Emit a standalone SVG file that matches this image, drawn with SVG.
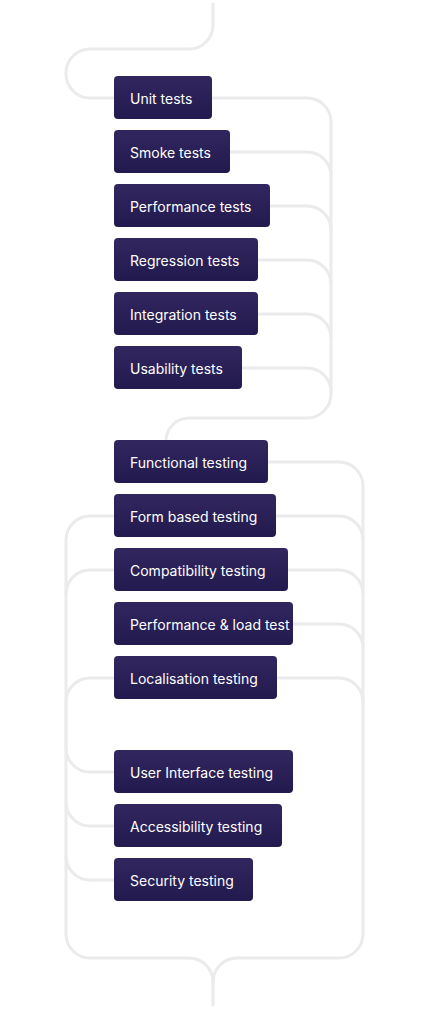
<svg xmlns="http://www.w3.org/2000/svg" width="430" height="1009" viewBox="0 0 430 1009">
<defs>
<linearGradient id="bg" x1="0" y1="0" x2="0" y2="1">
<stop offset="0" stop-color="#32265f"/>
<stop offset="1" stop-color="#221a4e"/>
</linearGradient>
<style>
.c{fill:none;stroke:#ebebeb;stroke-width:3;stroke-linecap:round;stroke-linejoin:round}
.b{fill:url(#bg)}
.t{fill:#ffffff;font-family:Inter,"Noto Sans",sans-serif;font-size:14px}
</style>
</defs>
<rect width="430" height="1009" fill="#ffffff"/>
<g id="connectors">
<path class="c" d="M213,4 V25 A24,24 0 0 1 189,49 H90 A24,24 0 0 0 66,73 V74 A24,24 0 0 0 90,98 H114"/>
<path class="c" d="M211,98 H307 A24,24 0 0 1 331,122 V394 A24,24 0 0 1 307,418 H189 A23,23 0 0 0 166,441"/>
<path class="c" d="M229,152 H307 A24,24 0 0 1 331,176"/>
<path class="c" d="M269,206 H307 A24,24 0 0 1 331,230"/>
<path class="c" d="M257,260 H307 A24,24 0 0 1 331,284"/>
<path class="c" d="M257,314 H307 A24,24 0 0 1 331,338"/>
<path class="c" d="M241,368 H307 A24,24 0 0 1 331,392"/>
<path class="c" d="M267,462 H339 A24,24 0 0 1 363,486 V934 A24,24 0 0 1 339,958 H237 A24,24 0 0 0 213,982 V1005"/>
<path class="c" d="M275,516 H339 A24,24 0 0 1 363,540"/>
<path class="c" d="M287,570 H339 A24,24 0 0 1 363,594"/>
<path class="c" d="M292,624 H339 A24,24 0 0 1 363,648"/>
<path class="c" d="M276,678 H339 A24,24 0 0 1 363,702"/>
<path class="c" d="M114,516 H90 A24,24 0 0 0 66,540 V934 A24,24 0 0 0 90,958 H189 A24,24 0 0 1 213,982"/>
<path class="c" d="M114,570 H90 A24,24 0 0 0 66,594"/>
<path class="c" d="M114,678 H90 A24,24 0 0 0 66,702 V748 A24,24 0 0 0 90,772 H114"/>
<path class="c" d="M114,826 H90 A24,24 0 0 1 66,802"/>
<path class="c" d="M114,880 H90 A24,24 0 0 1 66,856"/>
</g>
<g id="n1"><rect class="b" x="114" y="76" width="98" height="43" rx="4"/><text class="t" x="130" y="104">Unit tests</text></g>
<g id="n2"><rect class="b" x="114" y="130" width="116" height="43" rx="4"/><text class="t" x="130" y="158">Smoke tests</text></g>
<g id="n3"><rect class="b" x="114" y="184" width="156" height="43" rx="4"/><text class="t" x="130" y="212">Performance tests</text></g>
<g id="n4"><rect class="b" x="114" y="238" width="144" height="43" rx="4"/><text class="t" x="130" y="266">Regression tests</text></g>
<g id="n5"><rect class="b" x="114" y="292" width="144" height="43" rx="4"/><text class="t" x="130" y="320">Integration tests</text></g>
<g id="n6"><rect class="b" x="114" y="346" width="128" height="43" rx="4"/><text class="t" x="130" y="374">Usability tests</text></g>
<g id="n7"><rect class="b" x="114" y="440" width="154" height="43" rx="4"/><text class="t" x="130" y="468">Functional testing</text></g>
<g id="n8"><rect class="b" x="114" y="494" width="162" height="43" rx="4"/><text class="t" x="130" y="522">Form based testing</text></g>
<g id="n9"><rect class="b" x="114" y="548" width="174" height="43" rx="4"/><text class="t" x="130" y="576">Compatibility testing</text></g>
<g id="n10"><rect class="b" x="114" y="602" width="179" height="43" rx="4"/><text class="t" x="130" y="630">Performance &amp; load test</text></g>
<g id="n11"><rect class="b" x="114" y="656" width="163" height="43" rx="4"/><text class="t" x="130" y="684">Localisation testing</text></g>
<g id="n12"><rect class="b" x="114" y="750" width="179" height="43" rx="4"/><text class="t" x="130" y="778">User Interface testing</text></g>
<g id="n13"><rect class="b" x="114" y="804" width="168" height="43" rx="4"/><text class="t" x="130" y="832">Accessibility testing</text></g>
<g id="n14"><rect class="b" x="114" y="858" width="139" height="43" rx="4"/><text class="t" x="130" y="886">Security testing</text></g>
</svg>
